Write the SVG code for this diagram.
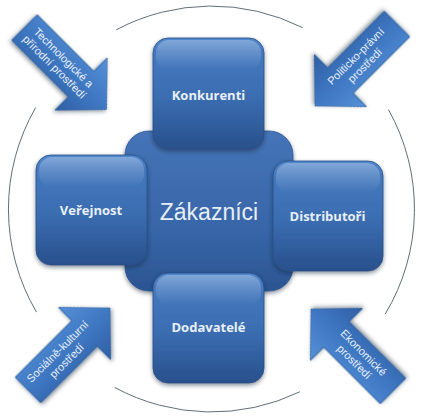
<svg xmlns="http://www.w3.org/2000/svg" width="425" height="420" viewBox="0 0 425 420">
<defs>
<linearGradient id="gBox" x1="0" y1="0" x2="0" y2="1">
<stop offset="0" stop-color="#5288cc"/>
<stop offset="0.12" stop-color="#4579bf"/>
<stop offset="0.55" stop-color="#3a6cb0"/>
<stop offset="1" stop-color="#28508c"/>
</linearGradient>
<linearGradient id="gCenter" x1="0" y1="0" x2="0" y2="1">
<stop offset="0" stop-color="#4574b8"/>
<stop offset="0.6" stop-color="#3866a8"/>
<stop offset="1" stop-color="#2b5592"/>
</linearGradient>
<linearGradient id="gArrow" x1="0" y1="0" x2="0" y2="1">
<stop offset="0" stop-color="#5590d8"/>
<stop offset="0.5" stop-color="#3f78c2"/>
<stop offset="1" stop-color="#2f5fa5"/>
</linearGradient>
<linearGradient id="gGloss" x1="0" y1="0" x2="0" y2="1">
<stop offset="0" stop-color="#ffffff" stop-opacity="0.28"/>
<stop offset="1" stop-color="#ffffff" stop-opacity="0"/>
</linearGradient>
<filter id="sh" x="-20%" y="-20%" width="140%" height="140%">
<feDropShadow dx="0" dy="2" stdDeviation="2" flood-color="#0a1a33" flood-opacity="0.5"/>
</filter>
<path id="arrowShape" d="M-58,-18 L22,-18 L22,-37 L58,0 L22,37 L22,18 L-58,18 Z"/>
</defs>
<style>
.ring{fill:none;stroke:#5f6f78;stroke-width:1}
.box{fill:url(#gBox);stroke:#2a4f86;stroke-width:0.8;filter:url(#sh)}
.center{fill:url(#gCenter);stroke:#2d5590;stroke-width:0.8;filter:url(#sh)}
.gloss{fill:url(#gGloss)}
.arrow{fill:url(#gArrow);stroke:#2c5a9c;stroke-width:0.8;filter:url(#sh)}
.lbl{font-family:"Open Sans","Liberation Sans",sans-serif;font-weight:bold;font-size:13px;fill:#e8f0fa;text-anchor:middle}
.big{font-family:"Liberation Sans",Arial,sans-serif;font-size:23px;fill:#e6eef8;text-anchor:middle}
.at{font-family:"Liberation Sans",Arial,sans-serif;font-size:11px;fill:#e8f0fa;text-anchor:middle}
</style>

<g id="ring">
<path class="ring" d="M116.2,29.8 A203,203 0 0 1 302.7,27.7"/>
<path class="ring" d="M388.5,109.7 A203,203 0 0 1 385.1,314.2"/>
<path class="ring" d="M299.8,391.8 A203,203 0 0 1 114.7,387.4"/>
<path class="ring" d="M36.5,312.1 A203,203 0 0 1 35.7,107.5"/>
</g>

<g id="zakaznici">
<rect class="center" x="125" y="131" width="168" height="160" rx="24"/>
<text class="big" x="209" y="220">Zákazníci</text>
</g>

<g id="konkurenti">
<rect class="box" x="153" y="38" width="111" height="111" rx="15"/>
<rect class="gloss" x="156" y="40" width="105" height="30" rx="13"/>
<text class="lbl" x="208.5" y="100">Konkurenti</text>
</g>

<g id="verejnost">
<rect class="box" x="36" y="155" width="111" height="110" rx="15"/>
<rect class="gloss" x="39" y="157" width="105" height="30" rx="13"/>
<text class="lbl" x="91" y="215">Veřejnost</text>
</g>

<g id="distributori">
<rect class="box" x="273" y="161" width="110" height="110" rx="15"/>
<rect class="gloss" x="276" y="163" width="104" height="30" rx="13"/>
<text class="lbl" x="327.5" y="221">Distributoři</text>
</g>

<g id="dodavatele">
<rect class="box" x="153" y="273" width="111" height="110" rx="15"/>
<rect class="gloss" x="156" y="275" width="105" height="30" rx="13"/>
<text class="lbl" x="208.5" y="332">Dodavatelé</text>
</g>

<g id="arrow-technologicke" transform="translate(65.5,68.5) rotate(45)">
<use href="#arrowShape" class="arrow"/>
<text class="at" x="-9" y="-2.5">Technologické a</text>
<text class="at" x="-9" y="10.5">přírodní prostředí</text>
</g>

<g id="arrow-politicko">
<use href="#arrowShape" class="arrow" transform="translate(356,65) rotate(135)"/>
<g transform="translate(356,65) rotate(-45)">
<text class="at" x="6" y="-2.5">Politicko-právní</text>
<text class="at" x="6" y="10.5">prostředí</text>
</g>
</g>

<g id="arrow-socialne" transform="translate(69,349) rotate(-45)">
<use href="#arrowShape" class="arrow"/>
<text class="at" x="-10" y="-2.5">Sociálně-kulturní</text>
<text class="at" x="-10" y="10.5">prostředí</text>
</g>

<g id="arrow-ekonomicke">
<use href="#arrowShape" class="arrow" transform="translate(352,350) rotate(225)"/>
<g transform="translate(352,350) rotate(45)">
<text class="at" x="10" y="-2.5">Ekonomické</text>
<text class="at" x="10" y="10.5">prostředí</text>
</g>
</g>
</svg>
